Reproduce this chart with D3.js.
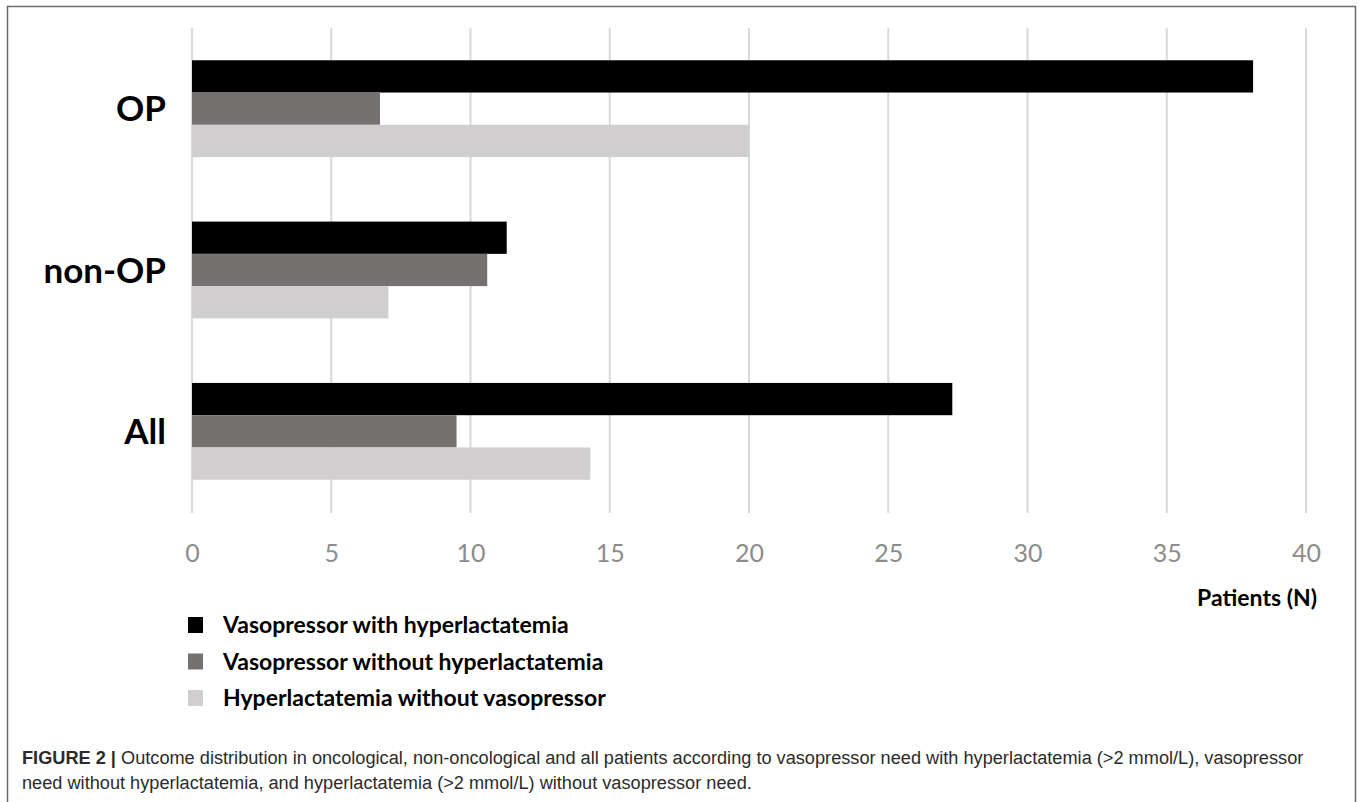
<!DOCTYPE html>
<html>
<head>
<meta charset="utf-8">
<script src="https://cdn.jsdelivr.net/npm/d3@7/dist/d3.min.js"></script>
<style>
  html, body { margin: 0; padding: 0; background: #fff; }
  svg { display: block; }
</style>
</head>
<body>
<svg id="chart" width="1360" height="802"></svg>
<script>
// Patient groups (top to bottom)
const categories = ["OP", "non-OP", "All"];
// Outcome series
const seriesNames = [
  "Vasopressor with hyperlactatemia",
  "Vasopressor without hyperlactatemia",
  "Hyperlactatemia without vasopressor"
];
// Number of patients per group, one array per series (OP, non-OP, All)
const vasoWithHyper    = [38.1, 11.3, 27.3];
const vasoWithoutHyper = [6.75, 10.6, 9.5];
const hyperWithoutVaso = [20.0, 7.05, 14.3];
const seriesColors = ["#000000", "#767171", "#d0cece"];
// Axis ticks
const xTicks = [0, 5, 10, 15, 20, 25, 30, 35, 40];
const axisTitle = "Patients (N)";
const captionLabel = "FIGURE 2 |";
const captionLines = [
  " Outcome distribution in oncological, non-oncological and all patients according to vasopressor need with hyperlactatemia (>2 mmol/L), vasopressor",
  "need without hyperlactatemia, and hyperlactatemia (>2 mmol/L) without vasopressor need."
];

const seriesValues = [vasoWithHyper, vasoWithoutHyper, hyperWithoutVaso];
const rows = categories.map((c, i) => ({
  category: c,
  values: seriesNames.map((s, j) => ({ series: s, value: seriesValues[j][i] }))
}));

const svg = d3.select("#chart");

// Figure frame
svg.append("rect")
  .attr("x", 7.5).attr("y", 6.5)
  .attr("width", 1348).attr("height", 820)
  .attr("fill", "none").attr("stroke", "#6b6b6b").attr("stroke-width", 1.5);

const x = d3.scaleLinear().domain([0, 40]).range([192, 1306]);
const y = d3.scaleBand().domain(categories).range([28, 512])
  .paddingInner(0.4).paddingOuter(0.2);
const ySub = d3.scaleBand().domain(seriesNames).range([0, y.bandwidth()]).padding(0);
const color = d3.scaleOrdinal().domain(seriesNames).range(seriesColors);

// Vertical gridlines
svg.append("g").selectAll("line")
  .data(xTicks).join("line")
  .attr("x1", d => x(d)).attr("x2", d => x(d))
  .attr("y1", 28).attr("y2", 513)
  .attr("stroke", "#d9d9d9").attr("stroke-width", 2);

// Bars
svg.append("g").selectAll("g")
  .data(rows).join("g")
  .attr("transform", d => `translate(0,${y(d.category)})`)
  .selectAll("rect")
  .data(d => d.values).join("rect")
  .attr("x", x(0))
  .attr("y", d => ySub(d.series))
  .attr("width", d => x(d.value) - x(0))
  .attr("height", ySub.bandwidth())
  .attr("fill", d => color(d.series));

// Category labels
svg.append("g").selectAll("text")
  .data(categories).join("text")
  .attr("x", 166)
  .attr("y", d => y(d) + y.bandwidth() / 2)
  .attr("dy", "0.36em")
  .attr("text-anchor", "end")
  .attr("font-family", "Lato, 'Open Sans', sans-serif")
  .attr("font-weight", 700)
  .attr("font-size", 35)
  .attr("fill", "#000")
  .text(d => d);

// X axis tick labels
const xAxis = d3.axisBottom(x).tickValues(xTicks).tickSize(0).tickPadding(0);
const gx = svg.append("g").attr("transform", "translate(0,553)").call(xAxis);
gx.select(".domain").remove();
gx.selectAll("text")
  .attr("y", 0).attr("dy", "0.36em")
  .attr("font-family", "Lato, sans-serif")
  .attr("font-size", 25)
  .attr("fill", "#8c8c8c");

// Axis title
svg.append("text")
  .attr("x", 1317).attr("y", 598).attr("dy", "0.36em")
  .attr("text-anchor", "end")
  .attr("font-family", "Lato, sans-serif")
  .attr("font-weight", 700)
  .attr("font-size", 23)
  .attr("fill", "#000")
  .text(axisTitle);

// Legend
const legend = svg.append("g").selectAll("g")
  .data(seriesNames).join("g")
  .attr("transform", (d, i) => `translate(0,${625 + i * 36.5})`);
legend.append("rect")
  .attr("x", 188).attr("y", -8).attr("width", 15).attr("height", 16)
  .attr("fill", d => color(d));
legend.append("text")
  .attr("x", 223).attr("y", 0).attr("dy", "0.36em")
  .attr("font-family", "Lato, sans-serif")
  .attr("font-weight", 700)
  .attr("font-size", 23)
  .attr("fill", "#000")
  .text(d => d);

// Caption
const cap = svg.append("g").attr("font-family", "'Liberation Sans', Arial, sans-serif")
  .attr("fill", "#2b2b2b");
const line1 = cap.append("text").attr("x", 22).attr("y", 764).attr("font-size", 17);
line1.append("tspan").attr("font-weight", 700).text(captionLabel);
line1.append("tspan").text(captionLines[0]);
cap.append("text").attr("x", 22).attr("y", 789).attr("font-size", 17).text(captionLines[1]);

// Fit caption width to the text block
const w = line1.node().getComputedTextLength();
const scale = 1282 / w;
cap.selectAll("text").attr("font-size", 17 * scale);
</script>
</body>
</html>
